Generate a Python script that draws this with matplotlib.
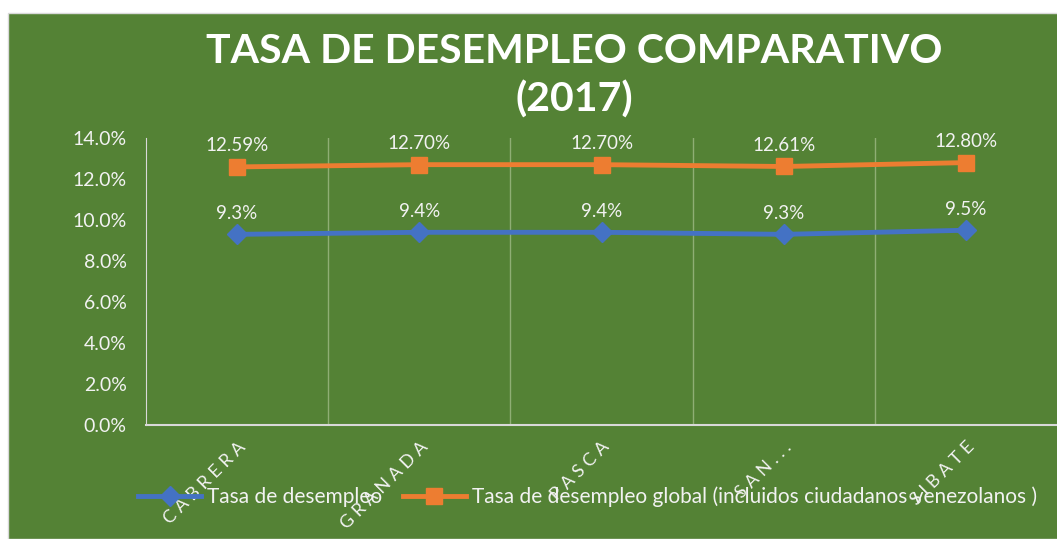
import matplotlib.pyplot as plt
from matplotlib.patches import Rectangle
from matplotlib.ticker import FuncFormatter, FixedLocator

plt.rcParams['font.family'] = ['Lato', 'DejaVu Sans']

municipios = ["CABRERA", "GRANADA", "PASCA", "SAN...", "SIBATE"]
tasa_desempleo = [9.3, 9.4, 9.4, 9.3, 9.5]
tasa_global = [12.59, 12.70, 12.70, 12.61, 12.80]
etiquetas_desempleo = ["9.3%", "9.4%", "9.4%", "9.3%", "9.5%"]
etiquetas_global = ["12.59%", "12.70%", "12.70%", "12.61%", "12.80%"]

verde = "#548235"
azul = "#4472C4"
naranja = "#ED7D31"
blanco = "#F2F2F2"

fig = plt.figure(figsize=(10.57, 5.39), dpi=100)
fig.patch.set_facecolor("white")
fondo = Rectangle((8 / 1057, 0), 1, 1 - 13 / 539, transform=fig.transFigure,
                  facecolor=verde, edgecolor="#d9d9d9", lw=1, zorder=-5)
fig.patches.append(fondo)

ax = fig.add_axes([146 / 1057, 114 / 539, 1 - 146 / 1057, 287 / 539])
ax.set_facecolor("none")

x = list(range(len(municipios)))
l1, = ax.plot(x, tasa_desempleo, color=azul, lw=3.5, marker="D", markersize=10,
              label="Tasa de desempleo", zorder=3)
l2, = ax.plot(x, tasa_global, color=naranja, lw=3.5, marker="s", markersize=12,
              label="Tasa de desempleo global (incluidos ciudadanos venezolanos )", zorder=3)

for xi, v, t in zip(x, tasa_desempleo, etiquetas_desempleo):
    ax.annotate(t, (xi, v), xytext=(0, 9), textcoords="offset points",
                ha="center", va="bottom", color=blanco, fontsize=13.5)
for xi, v, t in zip(x, tasa_global, etiquetas_global):
    ax.annotate(t, (xi, v), xytext=(0, 9), textcoords="offset points",
                ha="center", va="bottom", color=blanco, fontsize=13.5)

ax.set_xlim(-0.5, 4.5)
ax.set_ylim(0, 14)
ax.yaxis.set_major_locator(FixedLocator([0, 2, 4, 6, 8, 10, 12, 14]))
ax.yaxis.set_major_formatter(FuncFormatter(lambda v, p: f"{v:.1f}%"))
ax.tick_params(axis="y", length=0, labelsize=14, labelcolor=blanco, pad=14)

ax.set_xticks(x)
ax.set_xticklabels([" ".join(m) for m in municipios], rotation=45, ha="right",
                   rotation_mode="anchor", color=blanco, fontsize=13)
ax.tick_params(axis="x", length=0, pad=10)

ax.set_xticks([0.5, 1.5, 2.5, 3.5], minor=True)
ax.tick_params(axis="x", which="minor", length=0)
ax.grid(True, which="minor", axis="x", color="#8fae74", lw=1)
ax.grid(False, which="major")

for s in ["top", "right"]:
    ax.spines[s].set_visible(False)
ax.spines["left"].set_color("#d9d9d9")
ax.spines["bottom"].set_color("#d9d9d9")
ax.spines["bottom"].set_linewidth(1.5)

fig.text(0.543, 0.905, "TASA DE DESEMPLEO COMPARATIVO", ha="center", va="center",
         color="white", fontsize=29.5, fontweight="bold")
fig.text(0.543, 0.815, "(2017)", ha="center", va="center",
         color="white", fontsize=29.5, fontweight="bold")

leg = fig.legend(handles=[l1, l2], loc="center", bbox_to_anchor=(0.556, 0.078), ncol=2,
                 frameon=False, fontsize=15, labelcolor=blanco, handlelength=3,
                 columnspacing=1.0, handletextpad=0.3)
leg.set_zorder(10)

fig.savefig("out.png", dpi=100, facecolor=fig.get_facecolor())
